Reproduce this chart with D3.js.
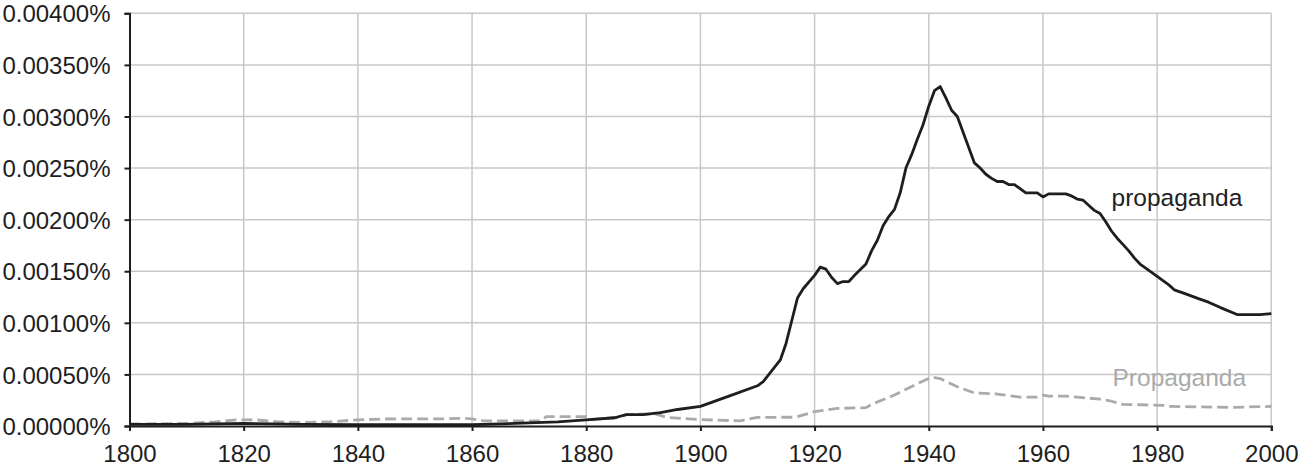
<!DOCTYPE html>
<html>
<head>
<meta charset="utf-8">
<script src="https://cdn.jsdelivr.net/npm/d3@7"></script>
<style>
  html, body { margin: 0; padding: 0; background: #fff; }
  svg { display: block; font-family: "Liberation Sans", Arial, Helvetica, sans-serif; }
</style>
</head>
<body>
<svg id="chart" width="1299" height="467"></svg>
<script>
// ---- data (values in percent) ----
const lowerYears = [1800,1810,1815,1820,1825,1830,1840,1850,1860,1865,1870,1875,1880,1885,1887,1890,1893,1896,1900,1905,1910,1911,1912,1914,1915,1916,1917,1918,1920,1921,1922,1923,1924,1925,1926,1927,1929,1930,1931,1932,1933,1934,1935,1936,1937,1938,1939,1940,1941,1942,1943,1944,1945,1946,1947,1948,1949,1950,1951,1952,1953,1954,1955,1956,1957,1959,1960,1961,1964,1965,1966,1967,1968,1969,1970,1971,1972,1973,1974,1975,1976,1977,1978,1980,1982,1983,1985,1987,1989,1991,1994,1998,2000];
const lowerValues = [0.000015,0.000015,0.00002,0.000025,0.00002,0.000015,0.000012,0.000012,0.000012,0.00002,0.00003,0.00004,0.00006,0.00008,0.00011,0.00011,0.00013,0.00016,0.00019,0.00029,0.00039,0.00043,0.0005,0.00064,0.0008,0.00102,0.00124,0.00133,0.00146,0.00154,0.00152,0.00144,0.00138,0.0014,0.0014,0.00146,0.00157,0.0017,0.0018,0.00194,0.00203,0.0021,0.00226,0.0025,0.00263,0.00278,0.00292,0.0031,0.00325,0.00329,0.00318,0.00306,0.003,0.00285,0.0027,0.00255,0.0025,0.00244,0.0024,0.00237,0.00237,0.00234,0.00234,0.0023,0.00226,0.00226,0.00222,0.00225,0.00225,0.00223,0.0022,0.00219,0.00214,0.00209,0.00206,0.00198,0.00189,0.00182,0.00176,0.0017,0.00163,0.00157,0.00153,0.00145,0.00137,0.00132,0.00128,0.00124,0.0012,0.00115,0.00108,0.00108,0.00109];

const capYears = [1800,1810,1815,1819,1822,1826,1830,1835,1840,1845,1850,1855,1858,1860,1862,1872,1873,1880,1881,1886,1887,1892,1894,1900,1907,1910,1916,1917,1920,1924,1929,1930,1934,1938,1940,1941,1942,1945,1948,1952,1956,1959,1960,1961,1964,1970,1972,1974,1981,1982,1993,2000];
const capValues = [0.00002,0.000025,0.00004,0.00006,0.00006,0.00004,0.000035,0.00004,0.00006,0.000068,0.00007,0.00007,0.000075,0.00007,0.00005,0.00005,0.00009,0.00009,0.000065,0.000084,0.00011,0.00012,0.000084,0.000062,0.00005,0.000084,0.000085,0.00009,0.00014,0.00017,0.000178,0.00021,0.0003,0.00041,0.00046,0.00047,0.00046,0.00038,0.00032,0.00031,0.00028,0.00028,0.0003,0.00029,0.00029,0.00026,0.00024,0.00021,0.0002,0.00019,0.00018,0.00019];

const xTicks = [1800,1820,1840,1860,1880,1900,1920,1940,1960,1980,2000];
const yTicks = [0,0.0005,0.001,0.0015,0.002,0.0025,0.003,0.0035,0.004];
const seriesNames = ["propaganda", "Propaganda"];

// ---- layout ----
const svg = d3.select("#chart");
const x = d3.scaleLinear().domain([1800, 2000]).range([129.5, 1271.3]);
const y = d3.scaleLinear().domain([0, 0.004]).range([426, 13.3]);
const fmt = v => d3.format(".5f")(v) + "%";

// grid
const grid = svg.append("g");
grid.selectAll("line.v").data(xTicks.slice(1)).join("line")
  .attr("x1", d => x(d)).attr("x2", d => x(d))
  .attr("y1", y(0.004)).attr("y2", y(0))
  .attr("stroke", "#c8c8c8").attr("stroke-width", 1.5);
grid.selectAll("line.h").data(yTicks.slice(1)).join("line")
  .attr("x1", x(1800)).attr("x2", x(2000))
  .attr("y1", d => y(d)).attr("y2", d => y(d))
  .attr("stroke", "#c8c8c8").attr("stroke-width", 1.5);

// series labels
svg.append("text").attr("x", 1111.5).attr("y", 206)
  .attr("font-size", 24.5).attr("fill", "#222").text(seriesNames[0]);
svg.append("text").attr("x", 1112.5).attr("y", 386)
  .attr("font-size", 24.5).attr("fill", "#aaaaaa").text(seriesNames[1]);

// lines
const line = d3.line().x(d => x(d[0])).y(d => y(d[1]));
const capData = capYears.map((yr, i) => [yr, capValues[i]]);
const lowData = lowerYears.map((yr, i) => [yr, lowerValues[i]]);

svg.append("path").datum(capData).attr("d", line)
  .attr("fill", "none").attr("stroke", "#aaaaaa").attr("stroke-width", 2.8)
  .attr("stroke-dasharray", "11,5").attr("stroke-linejoin", "round");
svg.append("path").datum(lowData).attr("d", line)
  .attr("fill", "none").attr("stroke", "#1e1e1e").attr("stroke-width", 2.8)
  .attr("stroke-linejoin", "round");

// axes
const yAxis = d3.axisLeft(y).tickValues(yTicks).tickFormat(fmt).tickSize(5).tickPadding(14);
const gy = svg.append("g").attr("transform", `translate(${x(1800)},0)`).call(yAxis);
gy.select(".domain").attr("stroke", "#1e1e1e").attr("stroke-width", 2);
gy.selectAll(".tick line").attr("stroke", "#1e1e1e").attr("stroke-width", 2);
gy.selectAll(".tick text").attr("font-size", 24).attr("fill", "#1e1e1e")
  .attr("font-family", "'Liberation Sans', Arial, sans-serif").attr("dy", "0.36em");

const xAxis = d3.axisBottom(x).tickValues(xTicks).tickFormat(d3.format("d")).tickSize(5).tickPadding(0);
const gx = svg.append("g").attr("transform", `translate(0,${y(0)})`).call(xAxis);
gx.select(".domain").attr("stroke", "#1e1e1e").attr("stroke-width", 2);
gx.selectAll(".tick line").attr("stroke", "#1e1e1e").attr("stroke-width", 2);
gx.selectAll(".tick text").attr("font-size", 24).attr("fill", "#1e1e1e")
  .attr("font-family", "'Liberation Sans', Arial, sans-serif").attr("y", 35.5).attr("dy", 0);
</script>
</body>
</html>
